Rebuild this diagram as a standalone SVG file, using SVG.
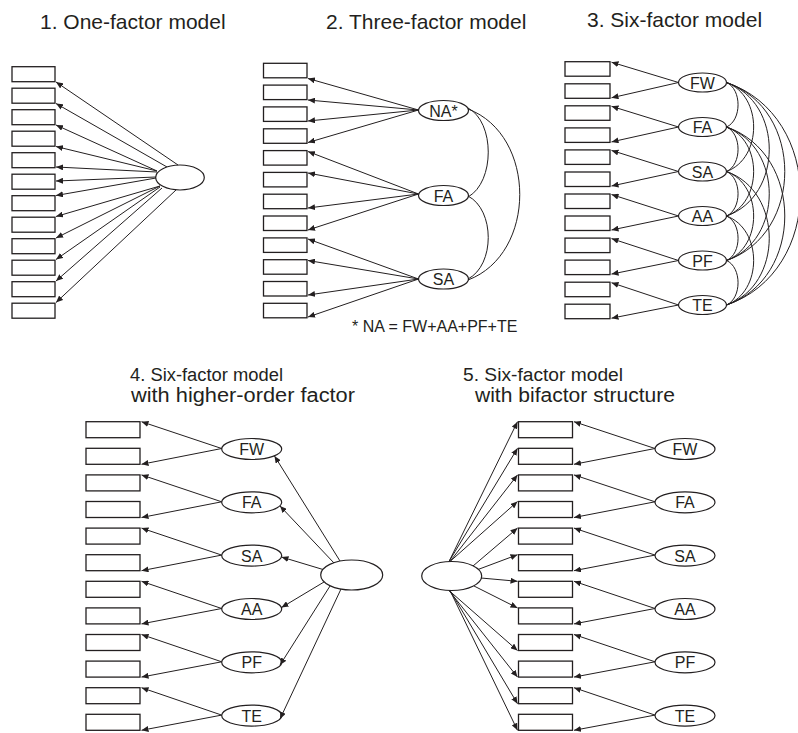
<svg xmlns="http://www.w3.org/2000/svg" width="798" height="733" viewBox="0 0 798 733">
<defs>
<style>
text{font-family:"Liberation Sans",Arial,Helvetica,sans-serif;fill:#231f20}
.t{font-size:21px}
.t1{font-size:18px}
.t2{font-size:20px}
.lab{font-size:16px;text-anchor:middle}
.fn{font-size:16px}
.box{fill:#fff;stroke:#231f20;stroke-width:1.3}
.el{fill:#fff;stroke:#231f20;stroke-width:1.2}
.ar{fill:none;stroke:#231f20;stroke-width:1;marker-end:url(#ah)}
.cv{fill:none;stroke:#231f20;stroke-width:1}
</style>
<marker id="ah" markerUnits="userSpaceOnUse" markerWidth="8" markerHeight="6" refX="7" refY="3" orient="auto">
<path d="M0,0 L7,3 L0,6 z" fill="#231f20"/>
</marker>
</defs>
<rect width="798" height="733" fill="#fff"/>

<g id="titles">
<text class="t" x="40" y="29">1. One-factor model</text>
<text class="t" x="326" y="29">2. Three-factor model</text>
<text class="t" x="587" y="26.5">3. Six-factor model</text>
<text class="t1" x="130" y="380.5" textLength="153" lengthAdjust="spacingAndGlyphs">4. Six-factor model</text>
<text class="t2" x="131" y="402" textLength="224" lengthAdjust="spacingAndGlyphs">with higher-order factor</text>
<text class="t1" x="463" y="380.5" textLength="160" lengthAdjust="spacingAndGlyphs">5. Six-factor model</text>
<text class="t2" x="475" y="402" textLength="200" lengthAdjust="spacingAndGlyphs">with bifactor structure</text>
<text class="fn" x="352" y="332">* NA = FW+AA+PF+TE</text>
</g>

<!-- Panel 1 -->
<g id="p1-items">
<rect class="box" x="12" y="66.7" width="43" height="15"/>
<rect class="box" x="12" y="88.2" width="43" height="15"/>
<rect class="box" x="12" y="109.7" width="43" height="15"/>
<rect class="box" x="12" y="131.2" width="43" height="15"/>
<rect class="box" x="12" y="152.7" width="43" height="15"/>
<rect class="box" x="12" y="174.2" width="43" height="15"/>
<rect class="box" x="12" y="195.7" width="43" height="15"/>
<rect class="box" x="12" y="217.2" width="43" height="15"/>
<rect class="box" x="12" y="238.7" width="43" height="15"/>
<rect class="box" x="12" y="260.2" width="43" height="15"/>
<rect class="box" x="12" y="281.7" width="43" height="15"/>
<rect class="box" x="12" y="303.2" width="43" height="15"/>
</g>
<g id="p1-factor"><ellipse class="el" cx="180" cy="177.5" rx="24.3" ry="12.5"/></g>

<!-- Panel 2 -->
<g id="p2-items">
<rect class="box" x="263.5" y="63.3" width="43.5" height="14.5"/>
<rect class="box" x="263.5" y="85.1" width="43.5" height="14.5"/>
<rect class="box" x="263.5" y="106.9" width="43.5" height="14.5"/>
<rect class="box" x="263.5" y="128.8" width="43.5" height="14.5"/>
<rect class="box" x="263.5" y="150.6" width="43.5" height="14.5"/>
<rect class="box" x="263.5" y="172.4" width="43.5" height="14.5"/>
<rect class="box" x="263.5" y="194.2" width="43.5" height="14.5"/>
<rect class="box" x="263.5" y="216" width="43.5" height="14.5"/>
<rect class="box" x="263.5" y="237.9" width="43.5" height="14.5"/>
<rect class="box" x="263.5" y="259.7" width="43.5" height="14.5"/>
<rect class="box" x="263.5" y="281.5" width="43.5" height="14.5"/>
<rect class="box" x="263.5" y="303.3" width="43.5" height="14.5"/>
</g>
<g id="p2-NA"><ellipse class="el" cx="443.5" cy="110.5" rx="25" ry="10"/><text class="lab" x="443.5" y="116.5">NA*</text></g>
<g id="p2-FA"><ellipse class="el" cx="443.5" cy="195.5" rx="25" ry="10"/><text class="lab" x="443.5" y="201.5">FA</text></g>
<g id="p2-SA"><ellipse class="el" cx="443.5" cy="279" rx="25" ry="10"/><text class="lab" x="443.5" y="285">SA</text></g>

<!-- Panel 3 -->
<g id="p3-items">
<rect class="box" x="565" y="61.7" width="45" height="14.5"/>
<rect class="box" x="565" y="83.8" width="45" height="14.5"/>
<rect class="box" x="565" y="105.8" width="45" height="14.5"/>
<rect class="box" x="565" y="127.9" width="45" height="14.5"/>
<rect class="box" x="565" y="149.9" width="45" height="14.5"/>
<rect class="box" x="565" y="172" width="45" height="14.5"/>
<rect class="box" x="565" y="194" width="45" height="14.5"/>
<rect class="box" x="565" y="216" width="45" height="14.5"/>
<rect class="box" x="565" y="238.1" width="45" height="14.5"/>
<rect class="box" x="565" y="260.1" width="45" height="14.5"/>
<rect class="box" x="565" y="282.2" width="45" height="14.5"/>
<rect class="box" x="565" y="304.2" width="45" height="14.5"/>
</g>
<g id="p3-FW"><ellipse class="el" cx="702.5" cy="82.5" rx="24" ry="9.5"/><text class="lab" x="702.5" y="88.5">FW</text></g>
<g id="p3-FA"><ellipse class="el" cx="702.5" cy="127" rx="24" ry="9.5"/><text class="lab" x="702.5" y="133">FA</text></g>
<g id="p3-SA"><ellipse class="el" cx="702.5" cy="171.5" rx="24" ry="9.5"/><text class="lab" x="702.5" y="177.5">SA</text></g>
<g id="p3-AA"><ellipse class="el" cx="702.5" cy="216" rx="24" ry="9.5"/><text class="lab" x="702.5" y="222">AA</text></g>
<g id="p3-PF"><ellipse class="el" cx="702.5" cy="260.5" rx="24" ry="9.5"/><text class="lab" x="702.5" y="266.5">PF</text></g>
<g id="p3-TE"><ellipse class="el" cx="702.5" cy="305" rx="24" ry="9.5"/><text class="lab" x="702.5" y="311">TE</text></g>

<!-- Panel 4 -->
<g id="p4-items">
<rect class="box" x="86" y="421.7" width="54" height="16"/>
<rect class="box" x="86" y="448.3" width="54" height="16"/>
<rect class="box" x="86" y="474.9" width="54" height="16"/>
<rect class="box" x="86" y="501.5" width="54" height="16"/>
<rect class="box" x="86" y="528.1" width="54" height="16"/>
<rect class="box" x="86" y="554.7" width="54" height="16"/>
<rect class="box" x="86" y="581.3" width="54" height="16"/>
<rect class="box" x="86" y="607.9" width="54" height="16"/>
<rect class="box" x="86" y="634.5" width="54" height="16"/>
<rect class="box" x="86" y="661.1" width="54" height="16"/>
<rect class="box" x="86" y="687.7" width="54" height="16"/>
<rect class="box" x="86" y="714.3" width="54" height="16"/>
</g>
<g id="p4-FW"><ellipse class="el" cx="251.7" cy="449" rx="30" ry="10.5"/><text class="lab" x="251.7" y="455">FW</text></g>
<g id="p4-FA"><ellipse class="el" cx="251.7" cy="502.3" rx="30" ry="10.5"/><text class="lab" x="251.7" y="508.3">FA</text></g>
<g id="p4-SA"><ellipse class="el" cx="251.7" cy="555.6" rx="30" ry="10.5"/><text class="lab" x="251.7" y="561.6">SA</text></g>
<g id="p4-AA"><ellipse class="el" cx="251.7" cy="609" rx="30" ry="10.5"/><text class="lab" x="251.7" y="615">AA</text></g>
<g id="p4-PF"><ellipse class="el" cx="251.7" cy="662.3" rx="30" ry="10.5"/><text class="lab" x="251.7" y="668.3">PF</text></g>
<g id="p4-TE"><ellipse class="el" cx="251.7" cy="715.6" rx="30" ry="10.5"/><text class="lab" x="251.7" y="721.6">TE</text></g>
<g id="p4-higher"><ellipse class="el" cx="351.7" cy="575" rx="31" ry="15"/></g>

<!-- Panel 5 -->
<g id="p5-items">
<rect class="box" x="518.5" y="421.7" width="54" height="16"/>
<rect class="box" x="518.5" y="448.3" width="54" height="16"/>
<rect class="box" x="518.5" y="474.9" width="54" height="16"/>
<rect class="box" x="518.5" y="501.5" width="54" height="16"/>
<rect class="box" x="518.5" y="528.1" width="54" height="16"/>
<rect class="box" x="518.5" y="554.7" width="54" height="16"/>
<rect class="box" x="518.5" y="581.3" width="54" height="16"/>
<rect class="box" x="518.5" y="607.9" width="54" height="16"/>
<rect class="box" x="518.5" y="634.5" width="54" height="16"/>
<rect class="box" x="518.5" y="661.1" width="54" height="16"/>
<rect class="box" x="518.5" y="687.7" width="54" height="16"/>
<rect class="box" x="518.5" y="714.3" width="54" height="16"/>
</g>
<g id="p5-FW"><ellipse class="el" cx="685" cy="449" rx="30" ry="10.5"/><text class="lab" x="685" y="455">FW</text></g>
<g id="p5-FA"><ellipse class="el" cx="685" cy="502.3" rx="30" ry="10.5"/><text class="lab" x="685" y="508.3">FA</text></g>
<g id="p5-SA"><ellipse class="el" cx="685" cy="555.6" rx="30" ry="10.5"/><text class="lab" x="685" y="561.6">SA</text></g>
<g id="p5-AA"><ellipse class="el" cx="685" cy="609" rx="30" ry="10.5"/><text class="lab" x="685" y="615">AA</text></g>
<g id="p5-PF"><ellipse class="el" cx="685" cy="662.3" rx="30" ry="10.5"/><text class="lab" x="685" y="668.3">PF</text></g>
<g id="p5-TE"><ellipse class="el" cx="685" cy="715.6" rx="30" ry="10.5"/><text class="lab" x="685" y="721.6">TE</text></g>
<g id="p5-general"><ellipse class="el" cx="451.7" cy="576" rx="30" ry="14.5"/></g>

<g id="connectors">
<!-- panel 1 -->
<path class="ar" d="M178,165 L56,82"/>
<path class="ar" d="M167,167 L56,103.5"/>
<path class="ar" d="M157,171 L56,125"/>
<path class="ar" d="M157,171 L56,146.5"/>
<path class="ar" d="M157,172 L56,167"/>
<path class="ar" d="M156,177 L56,181"/>
<path class="ar" d="M156,178 L56,195.5"/>
<path class="ar" d="M160,186 L56,216.5"/>
<path class="ar" d="M160,186 L56,238"/>
<path class="ar" d="M160,187 L56,259.5"/>
<path class="ar" d="M162,188 L56,281"/>
<path class="ar" d="M176,190 L56,302.5"/>
<!-- panel 2 -->
<path class="ar" d="M418.5,110 L308,78.5"/>
<path class="ar" d="M418.5,110 L308,100"/>
<path class="ar" d="M418.5,110 L308,121"/>
<path class="ar" d="M418.5,110 L308,142.5"/>
<path class="ar" d="M418.5,194 L308,151.5"/>
<path class="ar" d="M418.5,194 L308,173"/>
<path class="ar" d="M418.5,194 L308,208"/>
<path class="ar" d="M418.5,194 L308,230"/>
<path class="ar" d="M418.5,279 L308,239"/>
<path class="ar" d="M418.5,279 L308,260.5"/>
<path class="ar" d="M418.5,279 L308,295"/>
<path class="ar" d="M418.5,279 L308,317"/>
<path class="cv" d="M468,108 C495,122 495,182 468,197"/>
<path class="cv" d="M468,196 C495,210 495,265 468,279"/>
<path class="cv" d="M468,109 C537,135 537,254 468,280"/>
<!-- panel 3 loadings -->
<path class="ar" d="M678.5,82.5 L611.5,62.2"/>
<path class="ar" d="M678.5,82.5 L611.5,97.8"/>
<path class="ar" d="M678.5,127 L611.5,106.3"/>
<path class="ar" d="M678.5,127 L611.5,141.9"/>
<path class="ar" d="M678.5,171.5 L611.5,150.4"/>
<path class="ar" d="M678.5,171.5 L611.5,186"/>
<path class="ar" d="M678.5,216 L611.5,194.5"/>
<path class="ar" d="M678.5,216 L611.5,230"/>
<path class="ar" d="M678.5,260.5 L611.5,238.6"/>
<path class="ar" d="M678.5,260.5 L611.5,274.1"/>
<path class="ar" d="M678.5,305 L611.5,282.7"/>
<path class="ar" d="M678.5,305 L611.5,318.2"/>
<!-- panel 3 covariances -->
<path class="cv" d="M726.5,82.5 C741.9,89.2 741.9,120.3 726.5,127"/>
<path class="cv" d="M726.5,127 C741.9,133.7 741.9,164.8 726.5,171.5"/>
<path class="cv" d="M726.5,171.5 C741.9,178.2 741.9,209.3 726.5,216"/>
<path class="cv" d="M726.5,216 C741.9,222.7 741.9,253.8 726.5,260.5"/>
<path class="cv" d="M726.5,260.5 C741.9,267.2 741.9,298.3 726.5,305"/>
<path class="cv" d="M726.5,82.5 C762.7,95.9 762.7,158.1 726.5,171.5"/>
<path class="cv" d="M726.5,127 C762.7,140.4 762.7,202.6 726.5,216"/>
<path class="cv" d="M726.5,171.5 C762.7,184.9 762.7,247.1 726.5,260.5"/>
<path class="cv" d="M726.5,216 C762.7,229.4 762.7,291.6 726.5,305"/>
<path class="cv" d="M726.5,82.5 C783.5,102.5 783.5,196 726.5,216"/>
<path class="cv" d="M726.5,127 C783.5,147 783.5,240.5 726.5,260.5"/>
<path class="cv" d="M726.5,171.5 C783.5,191.5 783.5,285 726.5,305"/>
<path class="cv" d="M726.5,82.5 C804.2,109.2 804.2,233.8 726.5,260.5"/>
<path class="cv" d="M726.5,127 C804.2,153.7 804.2,278.3 726.5,305"/>
<path class="cv" d="M726.5,82.5 C825,115.9 825,271.6 726.5,305"/>
<!-- panel 4 loadings -->
<path class="ar" d="M221.7,448.5 L141.5,421.7"/>
<path class="ar" d="M221.7,448.5 L141.5,464.3"/>
<path class="ar" d="M221.7,501.8 L141.5,474.9"/>
<path class="ar" d="M221.7,501.8 L141.5,517.5"/>
<path class="ar" d="M221.7,555.1 L141.5,528.1"/>
<path class="ar" d="M221.7,555.1 L141.5,570.7"/>
<path class="ar" d="M221.7,608.5 L141.5,581.3"/>
<path class="ar" d="M221.7,608.5 L141.5,623.9"/>
<path class="ar" d="M221.7,661.8 L141.5,634.5"/>
<path class="ar" d="M221.7,661.8 L141.5,677.1"/>
<path class="ar" d="M221.7,715.1 L141.5,687.7"/>
<path class="ar" d="M221.7,715.1 L141.5,730.3"/>
<!-- panel 4 higher order -->
<path class="ar" d="M340,561 L274.5,456"/>
<path class="ar" d="M334,563 L280,506"/>
<path class="ar" d="M323,569.5 L281.5,557"/>
<path class="ar" d="M324,582 L281.5,607.5"/>
<path class="ar" d="M330,586 L280,665"/>
<path class="ar" d="M341,589 L280,719"/>
<!-- panel 5 specific -->
<path class="ar" d="M655,448.5 L574,421.7"/>
<path class="ar" d="M655,448.5 L574,464.3"/>
<path class="ar" d="M655,501.8 L574,474.9"/>
<path class="ar" d="M655,501.8 L574,517.5"/>
<path class="ar" d="M655,555.1 L574,528.1"/>
<path class="ar" d="M655,555.1 L574,570.7"/>
<path class="ar" d="M655,608.5 L574,581.3"/>
<path class="ar" d="M655,608.5 L574,623.9"/>
<path class="ar" d="M655,661.8 L574,634.5"/>
<path class="ar" d="M655,661.8 L574,677.1"/>
<path class="ar" d="M655,715.1 L574,687.7"/>
<path class="ar" d="M655,715.1 L574,730.3"/>
<!-- panel 5 general -->
<path class="ar" d="M449,561.5 L517.5,421.7"/>
<path class="ar" d="M449,561.5 L517.5,448.3"/>
<path class="ar" d="M450,561.5 L517.5,474.9"/>
<path class="ar" d="M450,561.5 L517.5,501.5"/>
<path class="ar" d="M473,566 L517.5,528.1"/>
<path class="ar" d="M478,569.5 L517.5,554.7"/>
<path class="ar" d="M481,578 L517.5,581.3"/>
<path class="ar" d="M474,586 L517.5,607.9"/>
<path class="ar" d="M449,590.5 L517.5,650.5"/>
<path class="ar" d="M449,590.5 L517.5,677.1"/>
<path class="ar" d="M450,590.5 L517.5,703.7"/>
<path class="ar" d="M450,590.5 L517.5,730.3"/>
</g>
</svg>
